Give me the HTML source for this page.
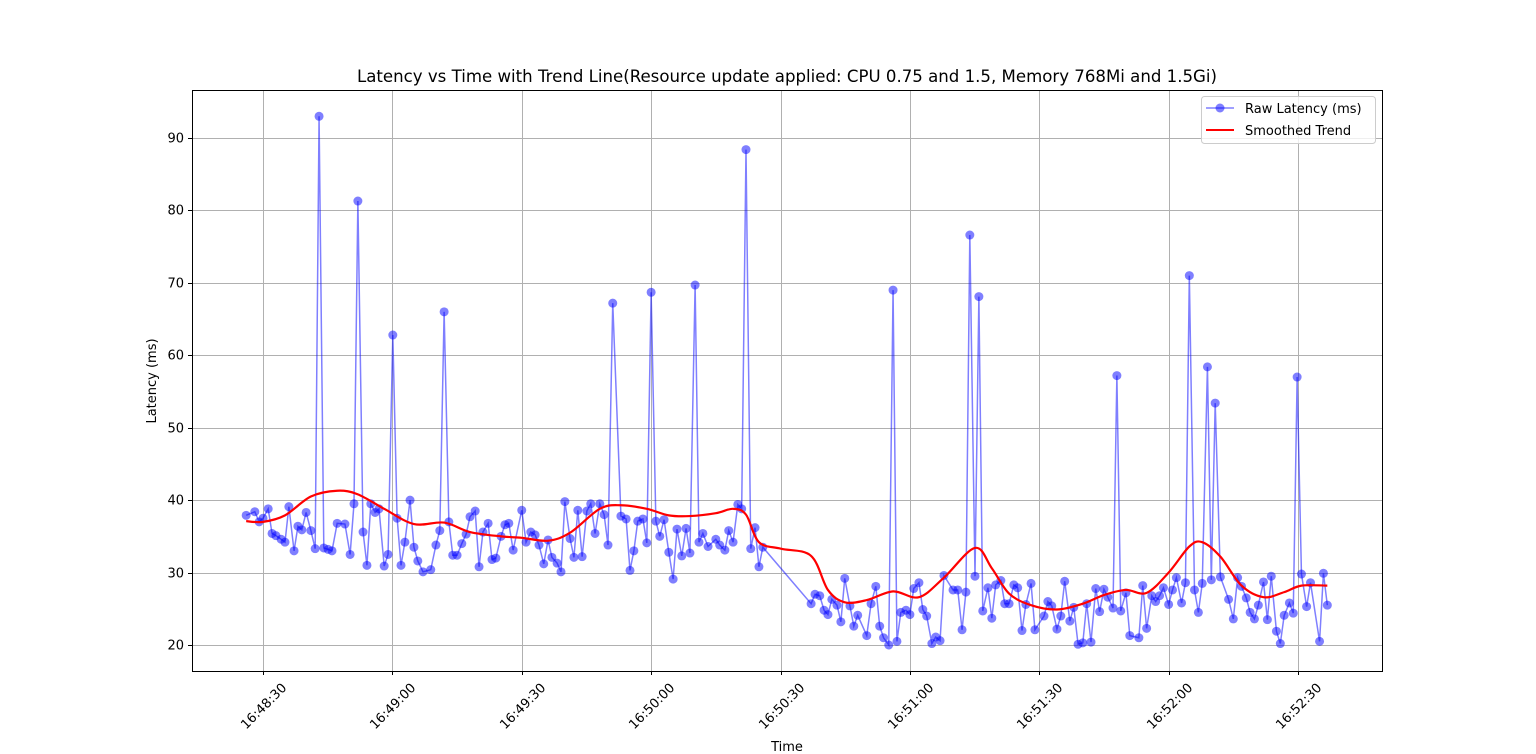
<!DOCTYPE html>
<html><head><meta charset="utf-8"><style>
html,body{margin:0;padding:0;background:#fff;}
svg{display:block;font-family:"DejaVu Sans","Liberation Sans",sans-serif;}
</style></head><body>
<svg id="chart" width="1536" height="754">
<rect width="1536" height="754" fill="#fff"/>
<text x="787" y="82" text-anchor="middle" font-size="16.6" fill="#000">Latency vs Time with Trend Line(Resource update applied: CPU 0.75 and 1.5, Memory 768Mi and 1.5Gi)</text>
<g id="grid"></g>
<g id="axes"></g>
<g id="series"></g>
<rect x="192.5" y="90.5" width="1190" height="581" fill="none" stroke="#000" stroke-width="1"/>
<text x="787" y="751" text-anchor="middle" font-size="13">Time</text>
<text transform="translate(156,381) rotate(-90)" text-anchor="middle" font-size="13">Latency (ms)</text>
<g>
<rect x="1201.5" y="96.5" width="174" height="47" rx="3" fill="#fff" fill-opacity="0.8" stroke="#ccc"/>
<g>
<line x1="1206" y1="108" x2="1234" y2="108" stroke="rgba(0,0,255,0.5)" stroke-width="1.5"/>
<circle cx="1220" cy="108" r="4.5" fill="rgba(0,0,255,0.5)"/>
<text x="1245" y="113" font-size="13">Raw Latency (ms)</text></g>
<g>
<line x1="1206" y1="130" x2="1234" y2="130" stroke="#f00" stroke-width="2"/>
<text x="1245" y="135" font-size="13">Smoothed Trend</text></g>
</g>
</svg>
<script>
// seconds after 16:48:00
const times=[26.1,28.1,29.1,30.0,31.2,32.1,33.0,34.2,35.1,36.0,37.2,38.1,39.0,40.0,41.1,42.1,43.0,44.1,45.1,46.0,47.2,49.0,50.2,51.1,52.0,53.2,54.1,55.0,56.0,56.9,58.1,59.0,60.1,61.1,62.0,62.9,64.1,65.0,65.9,67.1,68.9,70.1,71.0,72.0,73.1,74.0,75.0,76.1,77.1,78.0,79.2,80.1,81.0,82.2,83.1,84.0,85.2,86.1,87.0,88.0,90.0,91.0,92.1,93.1,94.0,95.1,96.1,97.0,98.2,99.1,100.0,101.2,102.1,103.0,104.0,105.1,106.0,107.0,108.1,109.1,110.0,111.1,113.0,114.2,115.1,116.0,116.9,118.1,119.0,120.0,121.1,122.0,123.0,124.1,125.1,126.0,127.1,128.1,129.0,130.2,131.1,132.0,133.2,135.0,135.9,137.1,138.0,139.0,140.1,141.0,142.0,143.1,144.1,145.0,145.9,157.1,158.0,159.1,160.1,161.0,161.9,163.1,164.0,164.9,166.1,167.0,167.9,170.0,171.0,172.1,173.0,173.9,175.1,176.1,177.0,177.9,179.1,180.0,180.9,182.1,183.0,183.9,185.1,186.0,187.0,187.9,190.0,191.1,192.1,193.0,193.9,195.1,196.0,196.9,198.1,199.0,199.9,201.1,202.0,203.0,204.1,205.0,206.0,206.9,208.1,209.0,211.1,212.0,212.9,214.1,215.0,215.9,217.1,218.0,219.0,220.1,221.0,222.0,223.1,224.0,225.0,225.9,227.1,228.0,228.9,230.1,231.0,233.1,234.0,234.9,236.1,237.0,237.9,238.8,240.0,240.9,241.8,243.0,243.9,244.8,246.0,246.9,247.8,249.0,249.9,250.8,252.0,253.9,255.0,256.0,256.9,258.0,258.9,259.9,260.8,262.0,262.9,263.8,265.0,265.9,266.8,268.0,268.9,269.8,270.8,272.0,272.9,275.0,275.9,276.8];
const latency=[37.9,38.4,37.0,37.5,38.8,35.4,35.1,34.6,34.2,39.1,33.0,36.4,35.9,38.3,35.8,33.3,93.0,33.4,33.2,33.0,36.8,36.7,32.5,39.5,81.3,35.6,31.0,39.5,38.3,38.8,30.9,32.5,62.8,37.5,31.0,34.2,40.0,33.5,31.6,30.1,30.4,33.8,35.8,66.0,37.0,32.4,32.4,34.0,35.3,37.7,38.5,30.8,35.6,36.8,31.8,32.0,35.0,36.6,36.8,33.1,38.6,34.2,35.6,35.2,33.8,31.2,34.5,32.1,31.3,30.1,39.8,34.7,32.1,38.6,32.2,38.5,39.5,35.4,39.5,38.0,33.8,67.2,37.8,37.4,30.3,33.0,37.1,37.4,34.1,68.7,37.1,35.0,37.3,32.8,29.1,36.0,32.3,36.1,32.7,69.7,34.2,35.4,33.6,34.6,33.8,33.1,35.8,34.2,39.4,38.8,88.4,33.3,36.2,30.8,33.5,25.7,27.0,26.8,24.8,24.2,26.3,25.5,23.2,29.2,25.4,22.6,24.1,21.3,25.7,28.1,22.6,21.0,20.0,69.0,20.5,24.5,24.8,24.2,27.8,28.6,24.9,24.0,20.2,21.1,20.6,29.6,27.6,27.6,22.1,27.3,76.6,29.5,68.1,24.7,27.9,23.7,28.3,28.9,25.7,25.7,28.3,27.9,22.0,25.6,28.5,22.1,24.0,26.0,25.4,22.2,24.0,28.8,23.3,25.2,20.1,20.3,25.7,20.4,27.8,24.6,27.7,26.6,25.1,57.2,24.7,27.2,21.3,21.0,28.2,22.3,26.8,26.0,26.8,27.9,25.6,27.6,29.3,25.8,28.6,71.0,27.6,24.5,28.5,58.4,29.0,53.4,29.4,26.3,23.6,29.3,28.1,26.5,24.5,23.6,25.5,28.7,23.5,29.5,21.9,20.2,24.1,25.8,24.4,57.0,29.8,25.3,28.6,20.5,29.9,25.5];
const trendTimes=[26.1,30,35.1,41.1,47.2,52,58.1,65,72,78,85.2,90,96.1,101.2,108.1,113,119,124.1,129,135,139,142,145,150.1,157.1,161,164.9,170,176.1,182.1,187.9,195.1,199,203,208.1,214.1,220.1,225,230.1,234.9,240,244.8,247.8,252,256.9,262,266.8,270.8,276.8];
const trendValues=[37.1,37.0,37.9,40.5,41.3,40.8,38.8,36.7,36.9,35.6,35.0,34.8,34.4,35.5,38.8,39.3,38.8,37.9,37.8,38.2,38.8,38.0,34.2,33.3,32.3,27.6,25.9,26.2,27.4,26.6,29.3,33.4,30.6,27.1,25.5,24.9,25.7,26.9,27.6,27.2,30.0,33.6,34.2,32.2,28.2,26.6,27.3,28.2,28.2];
const yTicks=[20,30,40,50,60,70,80,90];
const xTickSecs=[30,60,90,120,150,180,210,240,270];
const xTickLabels=["16:48:30","16:49:00","16:49:30","16:50:00","16:50:30","16:51:00","16:51:30","16:52:00","16:52:30"];

const NS="http://www.w3.org/2000/svg";
const xs=s=>263+(s-30)*(1298-263)/240;
const ys=v=>645-(v-20)*(645-138)/70;
function mk(tag,attrs,parent){const e=document.createElementNS(NS,tag);for(const k in attrs)e.setAttribute(k,attrs[k]);parent.appendChild(e);return e;}
const grid=document.getElementById('grid'),axes=document.getElementById('axes'),series=document.getElementById('series');
yTicks.forEach(v=>{const y=Math.round(ys(v))+0.5;
 const g=mk('line',{x1:192,x2:1382,y1:y,y2:y,stroke:'#b0b0b0','stroke-width':1},grid);
 
 
 mk('line',{x1:188,x2:192,y1:y,y2:y,stroke:'#000'},axes);
 const t=mk('text',{x:184,y:y+4,'text-anchor':'end','font-size':13},axes);t.textContent=v;
 
 
});
xTickSecs.forEach((s,i)=>{const x=Math.round(xs(s))+0.5;
 const g=mk('line',{x1:x,x2:x,y1:90,y2:671,stroke:'#b0b0b0','stroke-width':1},grid);
 
 
 mk('line',{x1:x,x2:x,y1:671,y2:675,stroke:'#000'},axes);
 const t=mk('text',{transform:`translate(${x},${706}) rotate(-45)`,'text-anchor':'middle','font-size':13,dy:'0.35em'},axes);t.textContent=xTickLabels[i];
 
 
});
const rawPts=times.map((t,i)=>[xs(t),ys(latency[i])]);
const rl=mk('polyline',{points:rawPts.map(p=>p.join(',')).join(' '),fill:'none',stroke:'rgba(0,0,255,0.5)','stroke-width':1.5},series);


rawPts.forEach(p=>{const c=mk('circle',{cx:p[0],cy:p[1],r:4.5,fill:'rgba(0,0,255,0.5)'},series);
 
 
});
const tp=trendTimes.map((t,i)=>[xs(t),ys(trendValues[i])]);
let d=`M${tp[0][0]},${tp[0][1]}`;
for(let i=0;i<tp.length-1;i++){const p0=tp[Math.max(0,i-1)],p1=tp[i],p2=tp[i+1],p3=tp[Math.min(tp.length-1,i+2)];
 const c1=[p1[0]+(p2[0]-p0[0])/6,p1[1]+(p2[1]-p0[1])/6],c2=[p2[0]-(p3[0]-p1[0])/6,p2[1]-(p3[1]-p1[1])/6];
 d+=` C${c1[0]},${c1[1]} ${c2[0]},${c2[1]} ${p2[0]},${p2[1]}`;}
const tl=mk('path',{d:d,fill:'none',stroke:'#f00','stroke-width':2.2},series);


</script>
</body></html>
